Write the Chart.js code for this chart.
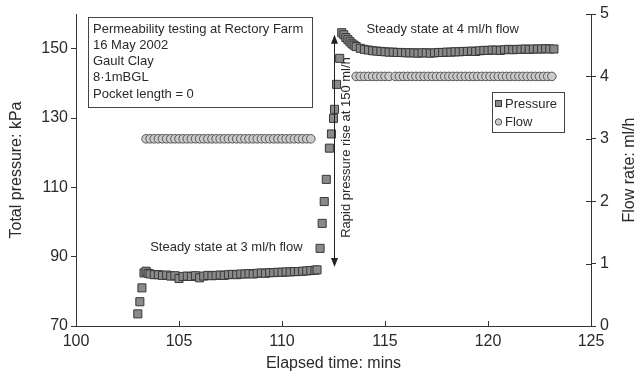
<!DOCTYPE html>
<html>
<head>
<meta charset="utf-8">
<script src="https://cdn.jsdelivr.net/npm/chart.js@4.4.1/dist/chart.umd.min.js"></script>
<style>
html, body { margin: 0; padding: 0; background: #fff; }
</style>
</head>
<body>
<canvas id="chart" width="642" height="378"></canvas>
<script>
// elapsed time (mins) and total pressure (kPa)
var pressureTime = [
  103.0, 103.1, 103.2, 103.3, 103.4, 103.5, 103.6, 103.8, 104.0, 104.2,
  104.4, 104.6, 104.8, 105.0, 105.2, 105.4, 105.6, 105.8, 106.0, 106.2,
  106.4, 106.6, 106.8, 107.0, 107.2, 107.4, 107.6, 107.8, 108.0, 108.2,
  108.4, 108.6, 108.8, 109.0, 109.2, 109.4, 109.6, 109.8, 110.0, 110.2,
  110.4, 110.6, 110.8, 111.0, 111.2, 111.4, 111.6, 111.7,
  111.85, 111.95, 112.05, 112.15, 112.3, 112.4, 112.5, 112.55, 112.65, 112.8,
  112.9, 113.0, 113.1, 113.2, 113.3, 113.4, 113.5, 113.6, 113.8, 114.0,
  114.2, 114.4, 114.6, 114.8, 115.0, 115.2, 115.4, 115.6, 115.8, 116.0,
  116.2, 116.4, 116.6, 116.8, 117.0, 117.2, 117.4, 117.6, 117.8, 118.0,
  118.2, 118.4, 118.6, 118.8, 119.0, 119.2, 119.4, 119.6, 119.8, 120.0,
  120.2, 120.4, 120.6, 120.8, 121.0, 121.2, 121.4, 121.6, 121.8, 122.0,
  122.2, 122.4, 122.6, 122.8, 123.0, 123.2
];
var pressureValue = [
  73.5, 77.0, 81.0, 85.3, 85.8, 85.2, 85.0, 84.8, 84.8, 84.6,
  84.7, 84.4, 84.5, 83.7, 84.3, 84.4, 84.3, 84.5, 83.9, 84.4,
  84.6, 84.5, 84.6, 84.7, 84.6, 84.8, 84.9, 84.8, 85.0, 85.0,
  85.1, 85.0, 85.2, 85.3, 85.2, 85.4, 85.4, 85.5, 85.5, 85.6,
  85.6, 85.7, 85.7, 85.8, 85.9, 86.0, 86.1, 86.2,
  92.4, 99.6, 105.9, 112.3, 121.3, 125.4, 129.9, 132.5, 139.7, 147.2,
  154.6, 154.0, 153.2, 152.6, 152.0, 151.4, 151.0, 150.6, 150.1, 149.8,
  149.6, 149.4, 149.3, 149.2, 149.1, 149.0, 149.0, 148.9, 148.9, 148.8,
  148.8, 148.8, 148.7, 148.8, 148.8, 148.7, 148.8, 148.9, 148.9, 149.0,
  149.0, 149.1, 149.1, 149.2, 149.2, 149.3, 149.2, 149.4, 149.5, 149.5,
  149.6, 149.6, 149.5, 149.7, 149.8, 149.7, 149.8, 149.8, 149.9, 149.8,
  149.9, 149.9, 149.9, 150.0, 149.9, 149.9
];

// elapsed time (mins) and flow rate (ml/h)
var flowTime = [
  103.4, 103.6, 103.8, 104.0, 104.2, 104.4, 104.6, 104.8, 105.0, 105.2,
  105.4, 105.6, 105.8, 106.0, 106.2, 106.4, 106.6, 106.8, 107.0, 107.2,
  107.4, 107.6, 107.8, 108.0, 108.2, 108.4, 108.6, 108.8, 109.0, 109.2,
  109.4, 109.6, 109.8, 110.0, 110.2, 110.4, 110.6, 110.8, 111.0, 111.2,
  111.4,
  113.6, 113.8, 114.0, 114.2, 114.4, 114.6, 114.8, 115.0, 115.2, 115.5,
  115.7, 115.9, 116.1, 116.3, 116.5, 116.7, 116.9, 117.1, 117.3, 117.5,
  117.7, 117.9, 118.1, 118.3, 118.5, 118.7, 118.9, 119.1, 119.3, 119.5,
  119.7, 119.9, 120.1, 120.3, 120.5, 120.7, 120.9, 121.1, 121.3, 121.5,
  121.7, 121.9, 122.1, 122.3, 122.5, 122.7, 122.9, 123.1
];
var flowValue = [
  3, 3, 3, 3, 3, 3, 3, 3, 3, 3,
  3, 3, 3, 3, 3, 3, 3, 3, 3, 3,
  3, 3, 3, 3, 3, 3, 3, 3, 3, 3,
  3, 3, 3, 3, 3, 3, 3, 3, 3, 3,
  3,
  4, 4, 4, 4, 4, 4, 4, 4, 4, 4,
  4, 4, 4, 4, 4, 4, 4, 4, 4, 4,
  4, 4, 4, 4, 4, 4, 4, 4, 4, 4,
  4, 4, 4, 4, 4, 4, 4, 4, 4, 4,
  4, 4, 4, 4, 4, 4, 4, 4
];

var timeTicks = [100, 105, 110, 115, 120, 125];
var pressureTicks = [70, 90, 110, 130, 150];
var flowTicks = [0, 1, 2, 3, 4, 5];

var infoLines = ['Permeability testing at Rectory Farm', '16 May 2002', 'Gault Clay', '8\u00b71mBGL', 'Pocket length = 0'];

var FONT = 'Liberation Sans, Arial, Helvetica, sans-serif';
var INK = '#2a2a2a';
var AXIS = '#333333';
var PRESS_FILL = '#8a8a8a', PRESS_EDGE = '#383838';
var FLOW_FILL = '#cbcbcb', FLOW_EDGE = '#555555';

function toPoints(xs, ys) {
  var out = [];
  for (var i = 0; i < xs.length; i++) out.push({ x: xs[i], y: ys[i] });
  return out;
}

function keepTicks(list) {
  return function (scale) {
    scale.ticks = list.map(function (v) { return { value: v }; });
  };
}

function drawArrowHead(ctx, x, y, dir) {
  ctx.beginPath();
  ctx.moveTo(x, y);
  ctx.lineTo(x - 3.5, y - dir * 9);
  ctx.lineTo(x + 3.5, y - dir * 9);
  ctx.closePath();
  ctx.fill();
}

var extras = {
  id: 'extras',
  afterDraw: function (chart) {
    var ctx = chart.ctx;
    var sx = chart.scales.x, sp = chart.scales.yP, sf = chart.scales.yF;
    var area = chart.chartArea;
    ctx.save();

    // inner tick marks on bottom and right axes
    ctx.strokeStyle = AXIS;
    ctx.lineWidth = 1;
    ctx.beginPath();
    timeTicks.forEach(function (t) {
      var x = Math.round(sx.getPixelForValue(t)) + 0.5;
      ctx.moveTo(x, area.bottom);
      ctx.lineTo(x, area.bottom - 5);
    });
    flowTicks.forEach(function (f) {
      var y = Math.round(sf.getPixelForValue(f)) + 0.5;
      ctx.moveTo(area.right, y);
      ctx.lineTo(area.right - 5, y);
    });
    ctx.stroke();

    // right axis title, reading bottom to top
    ctx.fillStyle = INK;
    ctx.font = '16px ' + FONT;
    ctx.textAlign = 'center';
    ctx.textBaseline = 'middle';
    ctx.save();
    ctx.translate(630, (area.top + area.bottom) / 2);
    ctx.rotate(-Math.PI / 2);
    ctx.fillText('Flow rate: ml/h', 0, 0);
    ctx.restore();

    // info box
    ctx.font = '13px ' + FONT;
    ctx.textAlign = 'left';
    ctx.fillStyle = '#fff';
    ctx.fillRect(88, 17, 224, 90);
    ctx.strokeStyle = '#444';
    ctx.strokeRect(88.5, 17.5, 224, 90);
    ctx.fillStyle = INK;
    infoLines.forEach(function (s, i) {
      ctx.fillText(s, 93, 29 + i * 16.3);
    });

    // steady state labels
    ctx.textAlign = 'center';
    ctx.fillText('Steady state at 3 ml/h flow', sx.getPixelForValue(107.3), sp.getPixelForValue(92.8));
    ctx.fillText('Steady state at 4 ml/h flow', sx.getPixelForValue(117.8), sp.getPixelForValue(155.6));

    // double arrow for the rapid rise
    var ax = Math.round(sx.getPixelForValue(112.5)) + 0.5;
    var y0 = sp.getPixelForValue(87), y1 = sp.getPixelForValue(154);
    ctx.strokeStyle = '#222';
    ctx.fillStyle = '#222';
    ctx.beginPath();
    ctx.moveTo(ax, y0 - 4);
    ctx.lineTo(ax, y1 + 4);
    ctx.stroke();
    drawArrowHead(ctx, ax, y1, -1);
    drawArrowHead(ctx, ax, y0, 1);

    ctx.save();
    ctx.translate(sx.getPixelForValue(113.15), sp.getPixelForValue(121.5));
    ctx.rotate(-Math.PI / 2);
    ctx.fillStyle = INK;
    ctx.fillText('Rapid pressure rise at 150 ml/h', 0, 0);
    ctx.restore();

    // legend
    ctx.fillStyle = '#fff';
    ctx.fillRect(492, 92, 72, 40);
    ctx.strokeStyle = '#444';
    ctx.strokeRect(492.5, 92.5, 72, 40);
    ctx.fillStyle = PRESS_FILL;
    ctx.strokeStyle = PRESS_EDGE;
    ctx.fillRect(495.5, 100.5, 6, 6);
    ctx.strokeRect(495.5, 100.5, 6, 6);
    ctx.fillStyle = FLOW_FILL;
    ctx.strokeStyle = FLOW_EDGE;
    ctx.beginPath();
    ctx.arc(498.5, 122, 3.2, 0, Math.PI * 2);
    ctx.fill();
    ctx.stroke();
    ctx.fillStyle = INK;
    ctx.textAlign = 'left';
    ctx.fillText('Pressure', 505, 104);
    ctx.fillText('Flow', 505, 122);

    ctx.restore();
  }
};

var tickFont = { family: FONT, size: 16 };

var config = {
  type: 'scatter',
  data: {
    datasets: [{
      label: 'Pressure',
      data: toPoints(pressureTime, pressureValue),
      yAxisID: 'yP',
      pointStyle: 'rect',
      pointRadius: 5.7,
      backgroundColor: PRESS_FILL,
      borderColor: PRESS_EDGE,
      borderWidth: 1
    }, {
      label: 'Flow',
      data: toPoints(flowTime, flowValue),
      yAxisID: 'yF',
      pointStyle: 'circle',
      pointRadius: 4.3,
      backgroundColor: FLOW_FILL,
      borderColor: FLOW_EDGE,
      borderWidth: 1
    }]
  },
  options: {
    responsive: false,
    animation: false,
    devicePixelRatio: 1,
    layout: { padding: { top: 14, left: 0, right: 0, bottom: 0 } },
    plugins: {
      legend: { display: false },
      tooltip: { enabled: false }
    },
    scales: {
      x: {
        type: 'linear',
        min: 100, max: 125,
        afterBuildTicks: keepTicks(timeTicks),
        afterFit: function (s) { s.height = 52; },
        grid: { drawOnChartArea: false, drawTicks: false },
        border: { color: AXIS, width: 1 },
        ticks: { color: INK, font: tickFont, padding: 6, maxRotation: 0 },
        title: { display: true, text: 'Elapsed time: mins', color: INK, font: tickFont, padding: { top: 0, bottom: 5 } }
      },
      yP: {
        type: 'linear',
        position: 'left',
        min: 70, max: 160,
        afterBuildTicks: keepTicks(pressureTicks),
        afterFit: function (s) { s.width = 76; },
        grid: { drawOnChartArea: false, tickLength: 5, color: AXIS },
        border: { color: AXIS, width: 1 },
        ticks: { color: INK, font: tickFont, padding: 3 },
        title: { display: true, text: 'Total pressure: kPa', color: INK, font: tickFont, padding: { top: 7, bottom: 0 } }
      },
      yF: {
        type: 'linear',
        position: 'right',
        min: 0, max: 5,
        afterBuildTicks: keepTicks(flowTicks),
        afterFit: function (s) { s.width = 51; },
        grid: { drawOnChartArea: false, tickLength: 5, color: AXIS },
        border: { color: AXIS, width: 1 },
        ticks: { color: INK, font: tickFont, padding: 4 }
      }
    }
  },
  plugins: [extras]
};

var ctx = document.getElementById('chart').getContext('2d');
window.myChart = new Chart(ctx, config);
</script>
</body>
</html>
